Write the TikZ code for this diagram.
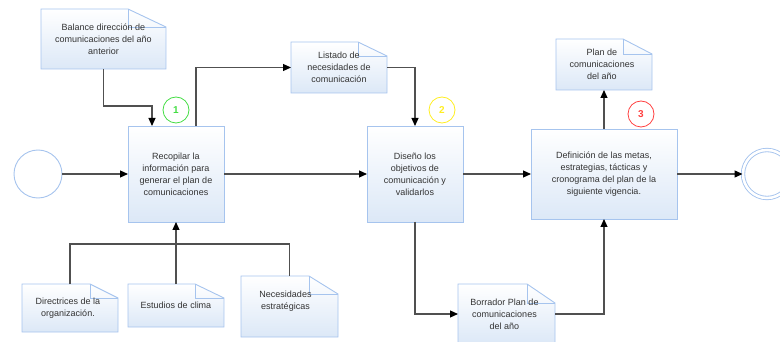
\documentclass[tikz,border=0pt]{standalone}
\usepackage{fontspec}
\setmainfont{Liberation Sans}
\usetikzlibrary{arrows.meta}
\definecolor{bord}{HTML}{A6C4EE}
\definecolor{fillb}{HTML}{DCE8F7}
\definecolor{conn}{HTML}{505050}
\definecolor{txtc}{HTML}{333333}
\definecolor{bgreen}{HTML}{44DD44}
\definecolor{byellow}{HTML}{FFEE22}
\definecolor{bred}{HTML}{FF4040}
\tikzset{
  frame/.style={inner sep=0pt, outer sep=0pt, rectangle},
  bordline/.style={draw=bord, line width=0.9pt},
  txtstyle/.style={font=\fontsize{9}{12}\selectfont, text=txtc, align=center, inner sep=0pt},
  proc/.style={frame, bordline, top color=white, bottom color=fillb, txtstyle},
  conline/.style={draw=conn, line width=1.1pt},
  arr/.style={conline, -{Triangle[length=8pt,width=7pt,color=black]}},
  badge/.style={circle, draw=#1, line width=0.8pt, minimum size=26pt, inner sep=0pt, text=#1, font=\fontsize{10}{12}\selectfont\bfseries},
  ev/.style={circle, bordline, fill=white, minimum size=48pt, inner sep=0pt}
}
\newcommand\docnode[9]{%
  \node[frame, minimum width={#4pt-#2pt}, minimum height={#5pt-#3pt}] (#1) at ({(#2+#4)/2},{(#3+#5)/2}) {};
  \shade[top color=white, bottom color=fillb] (#1.north west) -- ([xshift=-#6pt]#1.north east) -- ([yshift=-#7pt]#1.north east) -- (#1.south east) -- (#1.south west) -- cycle;
  \draw[bordline] (#1.north west) -- ([xshift=-#6pt]#1.north east) -- ([yshift=-#7pt]#1.north east) -- (#1.south east) -- (#1.south west) -- cycle;
  \draw[bordline] ([xshift=-#6pt]#1.north east) |- ([yshift=-#7pt]#1.north east);
  \node[txtstyle, #8] (#1t) at (#1.center) {#9};
}
\begin{document}
\begin{tikzpicture}[x=1pt,y=-1pt]
\useasboundingbox (0,0) rectangle (780,342);

% events
\node[ev] (s) at (38,174) {};
\node[ev, double=white, double distance=2.5pt] (e) at (767,174) {};

% process boxes
\node[proc, minimum width=96pt, minimum height=96pt] (p1) at (176,174) {Recopilar la\\información para\\generar el plan de\\comunicaciones};
\node[proc, minimum width=96pt, minimum height=96pt] (p2) at (415,174) {Diseño los\\objetivos de\\comunicación y\\validarlos};
\node[proc, minimum width=146pt, minimum height=90pt] (p3) at (604,174) {Definición de las metas,\\estrategias, tácticas y\\cronograma del plan de la\\siguiente vigencia.};

% documents
\docnode{bal}{41}{9}{166}{69}{38}{18}{}{Balance dirección de\\comunicaciones del año\\anterior}
\docnode{list}{291}{42}{387}{93}{29}{14}{}{Listado de\\necesidades de\\comunicación}
\docnode{plan}{556}{39}{652}{90}{29}{15}{xshift=-2pt}{Plan de\\comunicaciones\\del año}
\docnode{dir}{22}{284}{118}{332}{28}{14}{xshift=-2pt}{Directrices de la\\organización.}
\docnode{est}{128}{284}{224}{327}{29}{14}{}{Estudios de clima}
\docnode{nec}{241}{276}{338}{337}{29}{18}{xshift=-4pt,yshift=5pt}{Necesidades\\estratégicas}
\docnode{bor}{458}{284}{555}{344}{28}{19}{xshift=-2pt}{Borrador Plan de\\comunicaciones\\del año}

% badges
\node[badge=bgreen] (b1) at (176,110) {1};
\node[badge=byellow] (b2) at (442,110) {2};
\node[badge=bred] (b3) at (641,114) {3};

% connectors
\draw[arr] (s.east) -- (p1.west);
\draw[arr] (p1.east) -- (p2.west);
\draw[arr] (p2.east) -- (p3.west);
\draw[arr] (p3.east) -- (e.west);
\draw[arr] (bal.south) -- ++(0,37) -| ([xshift=-24pt]p1.north);
\draw[arr] ([xshift=20pt]p1.north) |- (list.west);
\draw[arr] (list.east) -| (p2.north);
\draw[arr] (p3.north) -- (plan.south);
\draw[arr] (p2.south) |- (bor.west);
\draw[arr] (bor.east) -| (p3.south);
\coordinate (j) at (176,244);
\draw[conline] (dir.north) |- (j) -| (nec.north);
\draw[arr] (est.north) -- (p1.south);
\end{tikzpicture}
\end{document}
